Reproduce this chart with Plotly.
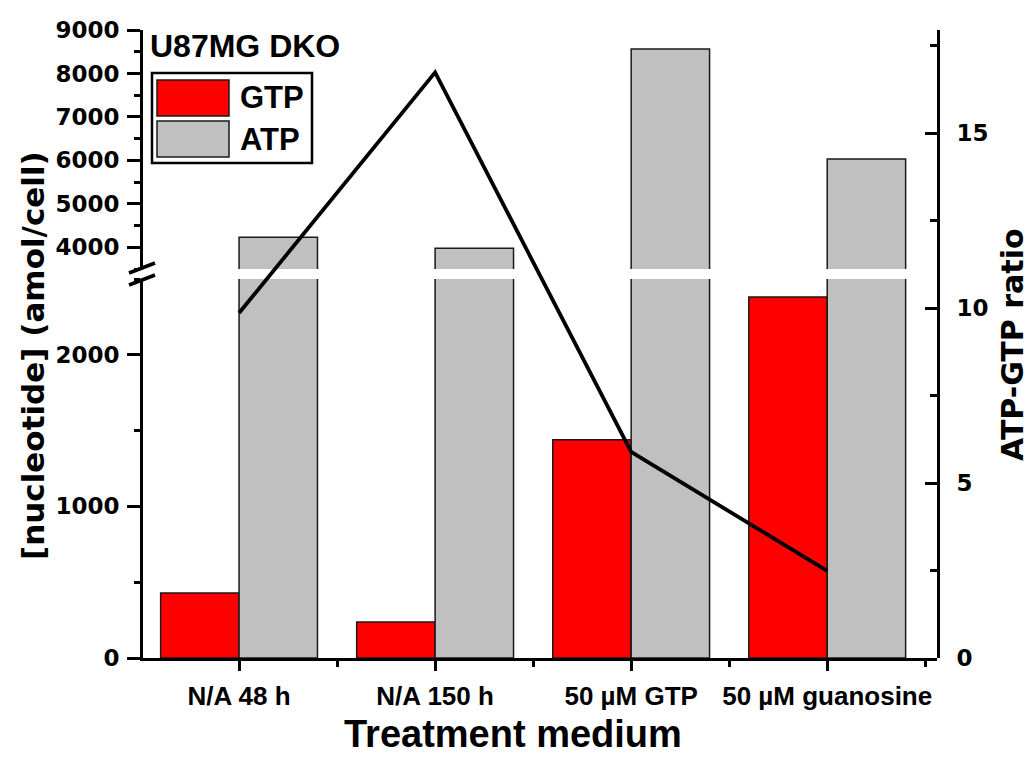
import plotly.graph_objects as go

categories = ["N/A 48 h", "N/A 150 h", "50 µM GTP", "50 µM guanosine"]
gtp = [428, 238, 1440, 2382]
atp = [4230, 3980, 8560, 6030]
ratio = [9.86, 16.74, 5.89, 2.49]

low_ticks = [0, 1000, 2000]
high_ticks = [4000, 5000, 6000, 7000, 8000, 9000]
right_ticks = [0, 5, 10, 15]

RED = "#FF0000"
GRAY = "#C0C0C0"
EDGE = "#1a1a1a"

# pixel geometry of plot area
W, H = 1029, 760
L, R, T, B = 143, 92, 30, 102
PW, PH = W - L - R, H - T - B

def px(xp):
    return (xp - L) / PW

def py(yp):
    return (H - B - yp) / PH

low_dom = [0, py(279)]
high_dom = [py(269), 1]

xs = list(range(len(categories)))

fig = go.Figure()
for ya in ("y", "y2"):
    fig.add_trace(go.Bar(x=xs, y=gtp, name="GTP", yaxis=ya, showlegend=False,
                         marker=dict(color=RED, line=dict(color=EDGE, width=1.5))))
    fig.add_trace(go.Bar(x=xs, y=atp, name="ATP", yaxis=ya, showlegend=False,
                         marker=dict(color=GRAY, line=dict(color=EDGE, width=1.5))))

fig.add_trace(go.Scatter(x=xs, y=ratio, yaxis="y3", mode="lines", showlegend=False,
                         line=dict(color="black", width=3.8)))

tickfont_y = dict(family="DejaVu Sans", size=23, color="black")
axis_common = dict(showline=True, linewidth=3, linecolor="black", showgrid=False,
                   zeroline=False, ticks="outside", tickwidth=3,
                   tickcolor="black", automargin=False)

fig.update_layout(
    width=W, height=H,
    margin=dict(l=L, r=R, t=T, b=B, pad=0),
    paper_bgcolor="white", plot_bgcolor="rgba(0,0,0,0)",
    barmode="group", bargap=0.2, bargroupgap=0,
    showlegend=False,
    font=dict(family="Liberation Sans", color="black"),
    xaxis=dict(range=[-0.49, 3.56], tickmode="array", tickvals=xs,
               ticktext=[f"<b>{c}</b>" for c in categories], ticklen=10,
               ticklabelstandoff=3,
               tickfont=dict(family="Liberation Sans", size=26, color="black"),
               minor=dict(tickmode="array", tickvals=[0.5, 1.5, 2.5, 3.5], ticks="outside",
                          ticklen=6, tickwidth=3, tickcolor="black"),
               anchor="y", **axis_common),
    yaxis=dict(domain=low_dom, range=[0, 2500], tickmode="array", tickvals=low_ticks,
               ticktext=[f"<b>{v}</b>" for v in low_ticks], ticklen=13,
               ticklabelstandoff=3,
               tickfont=tickfont_y, anchor="x",
               minor=dict(dtick=500, ticks="outside", ticklen=6, tickwidth=3, tickcolor="black"),
               **axis_common),
    yaxis2=dict(domain=high_dom, range=[3500, 9000], tickmode="array", tickvals=high_ticks,
                ticktext=[f"<b>{v}</b>" for v in high_ticks], ticklen=13,
                ticklabelstandoff=3,
                tickfont=tickfont_y, anchor="x",
                minor=dict(dtick=500, ticks="outside", ticklen=6, tickwidth=3, tickcolor="black"),
                **axis_common),
    yaxis3=dict(domain=[0, 1], range=[0, 17.95], side="right", anchor="x",
                tickmode="array", tickvals=right_ticks,
                ticktext=[f"<b>{v}</b>" for v in right_ticks], tickfont=tickfont_y,
                ticklabelstandoff=12,
                showline=True, linewidth=3, linecolor="black", showgrid=False, zeroline=False,
                ticks="inside", tickwidth=3, ticklen=12, tickcolor="black", automargin=False,
                minor=dict(dtick=2.5, ticks="inside", ticklen=7, tickwidth=3, tickcolor="black")),
)

# axis break marks
for yp in (268, 280):
    fig.add_shape(type="line", xref="paper", yref="paper",
                  x0=px(129), y0=py(yp + 5), x1=px(155), y1=py(yp - 5),
                  line=dict(color="black", width=3.5))

# custom legend
fig.add_shape(type="rect", xref="paper", yref="paper",
              x0=px(152), y0=py(163), x1=px(312), y1=py(73),
              line=dict(color="black", width=2.5), fillcolor="white")
fig.add_shape(type="rect", xref="paper", yref="paper",
              x0=px(157), y0=py(116), x1=px(229), y1=py(80),
              line=dict(color=EDGE, width=1.5), fillcolor=RED)
fig.add_shape(type="rect", xref="paper", yref="paper",
              x0=px(157), y0=py(157), x1=px(229), y1=py(121),
              line=dict(color=EDGE, width=1.5), fillcolor=GRAY)

big = dict(family="Liberation Sans", size=31, color="black")
fig.add_annotation(text="<b>GTP</b>", xref="paper", yref="paper", x=px(238), y=py(98),
                   xanchor="left", yanchor="middle", showarrow=False, font=big)
fig.add_annotation(text="<b>ATP</b>", xref="paper", yref="paper", x=px(238), y=py(139),
                   xanchor="left", yanchor="middle", showarrow=False, font=big)
fig.add_annotation(text="<b>U87MG DKO</b>", xref="paper", yref="paper", x=px(148), y=py(46),
                   xanchor="left", yanchor="middle", showarrow=False,
                   font=dict(family="Liberation Sans", size=32, color="black"))

fig.add_annotation(text="<b>[nucleotide] (amol/cell)</b>", xref="paper", yref="paper",
                   x=px(33), y=py(356), textangle=-90, xanchor="center", yanchor="middle",
                   showarrow=False, font=dict(family="DejaVu Sans", size=31, color="black"))
fig.add_annotation(text="<b>ATP-GTP ratio</b>", xref="paper", yref="paper",
                   x=px(1012), y=py(345), textangle=-90, xanchor="center", yanchor="middle",
                   showarrow=False, font=dict(family="DejaVu Sans", size=30, color="black"))
fig.add_annotation(text="<b>Treatment medium</b>", xref="paper", yref="paper",
                   x=px(513), y=py(734), xanchor="center", yanchor="middle", showarrow=False,
                   font=dict(family="Liberation Sans", size=38, color="black"))

fig.write_html("out.html")
